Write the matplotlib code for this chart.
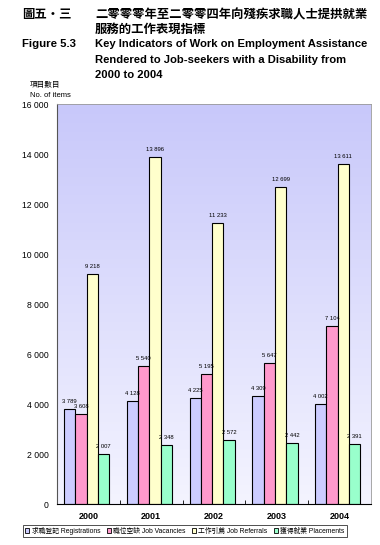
import numpy as np
import matplotlib
matplotlib.use('Agg')
import matplotlib.pyplot as plt
from matplotlib.patches import Patch

years = ['2000', '2001', '2002', '2003', '2004']
registrations = [3789, 4128, 4225, 4309, 4002]
vacancies = [3608, 5540, 5195, 5647, 7104]
referrals = [9218, 13896, 11233, 12699, 13611]
placements = [2007, 2348, 2572, 2442, 2391]
series_names = ['求職登記 Registrations', '職位空缺 Job Vacancies',
                '工作引薦 Job Referrals', '獲得就業 Placements']
colors = ['#ccccff', '#ff99cc', '#ffffcc', '#99ffcc']

plt.rcParams['font.family'] = ['Liberation Sans', 'Noto Sans CJK TC', 'DejaVu Sans']

fig = plt.figure(figsize=(3.8, 5.45), dpi=100)
W, H = 380, 545
ax = fig.add_axes([57 / W, 1 - 504 / H, (371 - 57) / W, (504 - 104) / H])

# gradient background
grad = np.linspace(0, 1, 256).reshape(-1, 1)
top = np.array([200, 200, 250]) / 255
bot = np.array([244, 244, 255]) / 255
img = top + (bot - top) * grad[..., None]
ax.imshow(img, extent=[-0.5, len(years) - 0.5, 0, 16000], aspect='auto', zorder=0)

x = np.arange(len(years))
bw = 0.18
all_series = [registrations, vacancies, referrals, placements]
for i, (vals, c) in enumerate(zip(all_series, colors)):
    pos = x + (i - 1.5) * bw - 0.03
    ax.bar(pos, vals, width=bw, color=c, edgecolor='black', linewidth=0.8, zorder=2)
    for p, v in zip(pos, vals):
        ax.text(p, v + 200, f'{v:,}'.replace(',', ' '), ha='center', va='bottom',
                fontsize=4.2, zorder=3)

ax.set_xlim(-0.5, len(years) - 0.5)
ax.set_ylim(0, 16000)
ax.set_yticks(np.arange(0, 16001, 2000))
ax.set_yticklabels([f'{v:,}'.replace(',', ' ') for v in range(0, 16001, 2000)], fontsize=6.2)
ax.set_xticks(x)
ax.set_xticklabels(years, fontsize=6.5, fontweight='bold')
ax.set_xticks(x[:-1] + 0.5, minor=True)
ax.tick_params(axis='x', which='major', length=0, pad=6)
ax.tick_params(axis='x', which='minor', length=3, direction='in')
ax.tick_params(axis='y', length=0, pad=6)
for s in ['top', 'right']:
    ax.spines[s].set_color('#999999')
    ax.spines[s].set_linewidth(0.6)
ax.spines['left'].set_color('#555555')
ax.spines['bottom'].set_color('black')

handles = [Patch(facecolor=c, edgecolor='black', linewidth=0.6) for c in colors]
leg = fig.legend(handles, series_names, loc='center', bbox_to_anchor=(185 / W, 1 - 531 / H),
                 ncol=4, fontsize=4.9, frameon=True, fancybox=False, edgecolor='black',
                 handlelength=0.6, handleheight=0.6, handletextpad=0.3, columnspacing=1.0,
                 borderpad=0.35)
leg.get_frame().set_linewidth(0.6)

def ft(px, py, s, **kw):
    fig.text(px / W, 1 - py / H, s, va='top', **kw)

ft(22, 9, '圖五・三', fontsize=8.9, fontweight='bold')
ft(95, 9, '二零零零年至二零零四年向殘疾求職人士提拱就業', fontsize=8.9, fontweight='bold')
ft(95, 24, '服務的工作表現指標', fontsize=8.9, fontweight='bold')
ft(22, 39, 'Figure 5.3', fontsize=8.2, fontweight='bold')
ft(95, 39, 'Key Indicators of Work on Employment Assistance', fontsize=8.1, fontweight='bold')
ft(95, 55, 'Rendered to Job-seekers with a Disability from', fontsize=8.1, fontweight='bold')
ft(95, 70, '2000 to 2004', fontsize=8.1, fontweight='bold')
ft(30, 82, '項目數目', fontsize=5.5)
ft(30, 92, 'No. of items', fontsize=5.5)

fig.savefig('out.png', dpi=100)
